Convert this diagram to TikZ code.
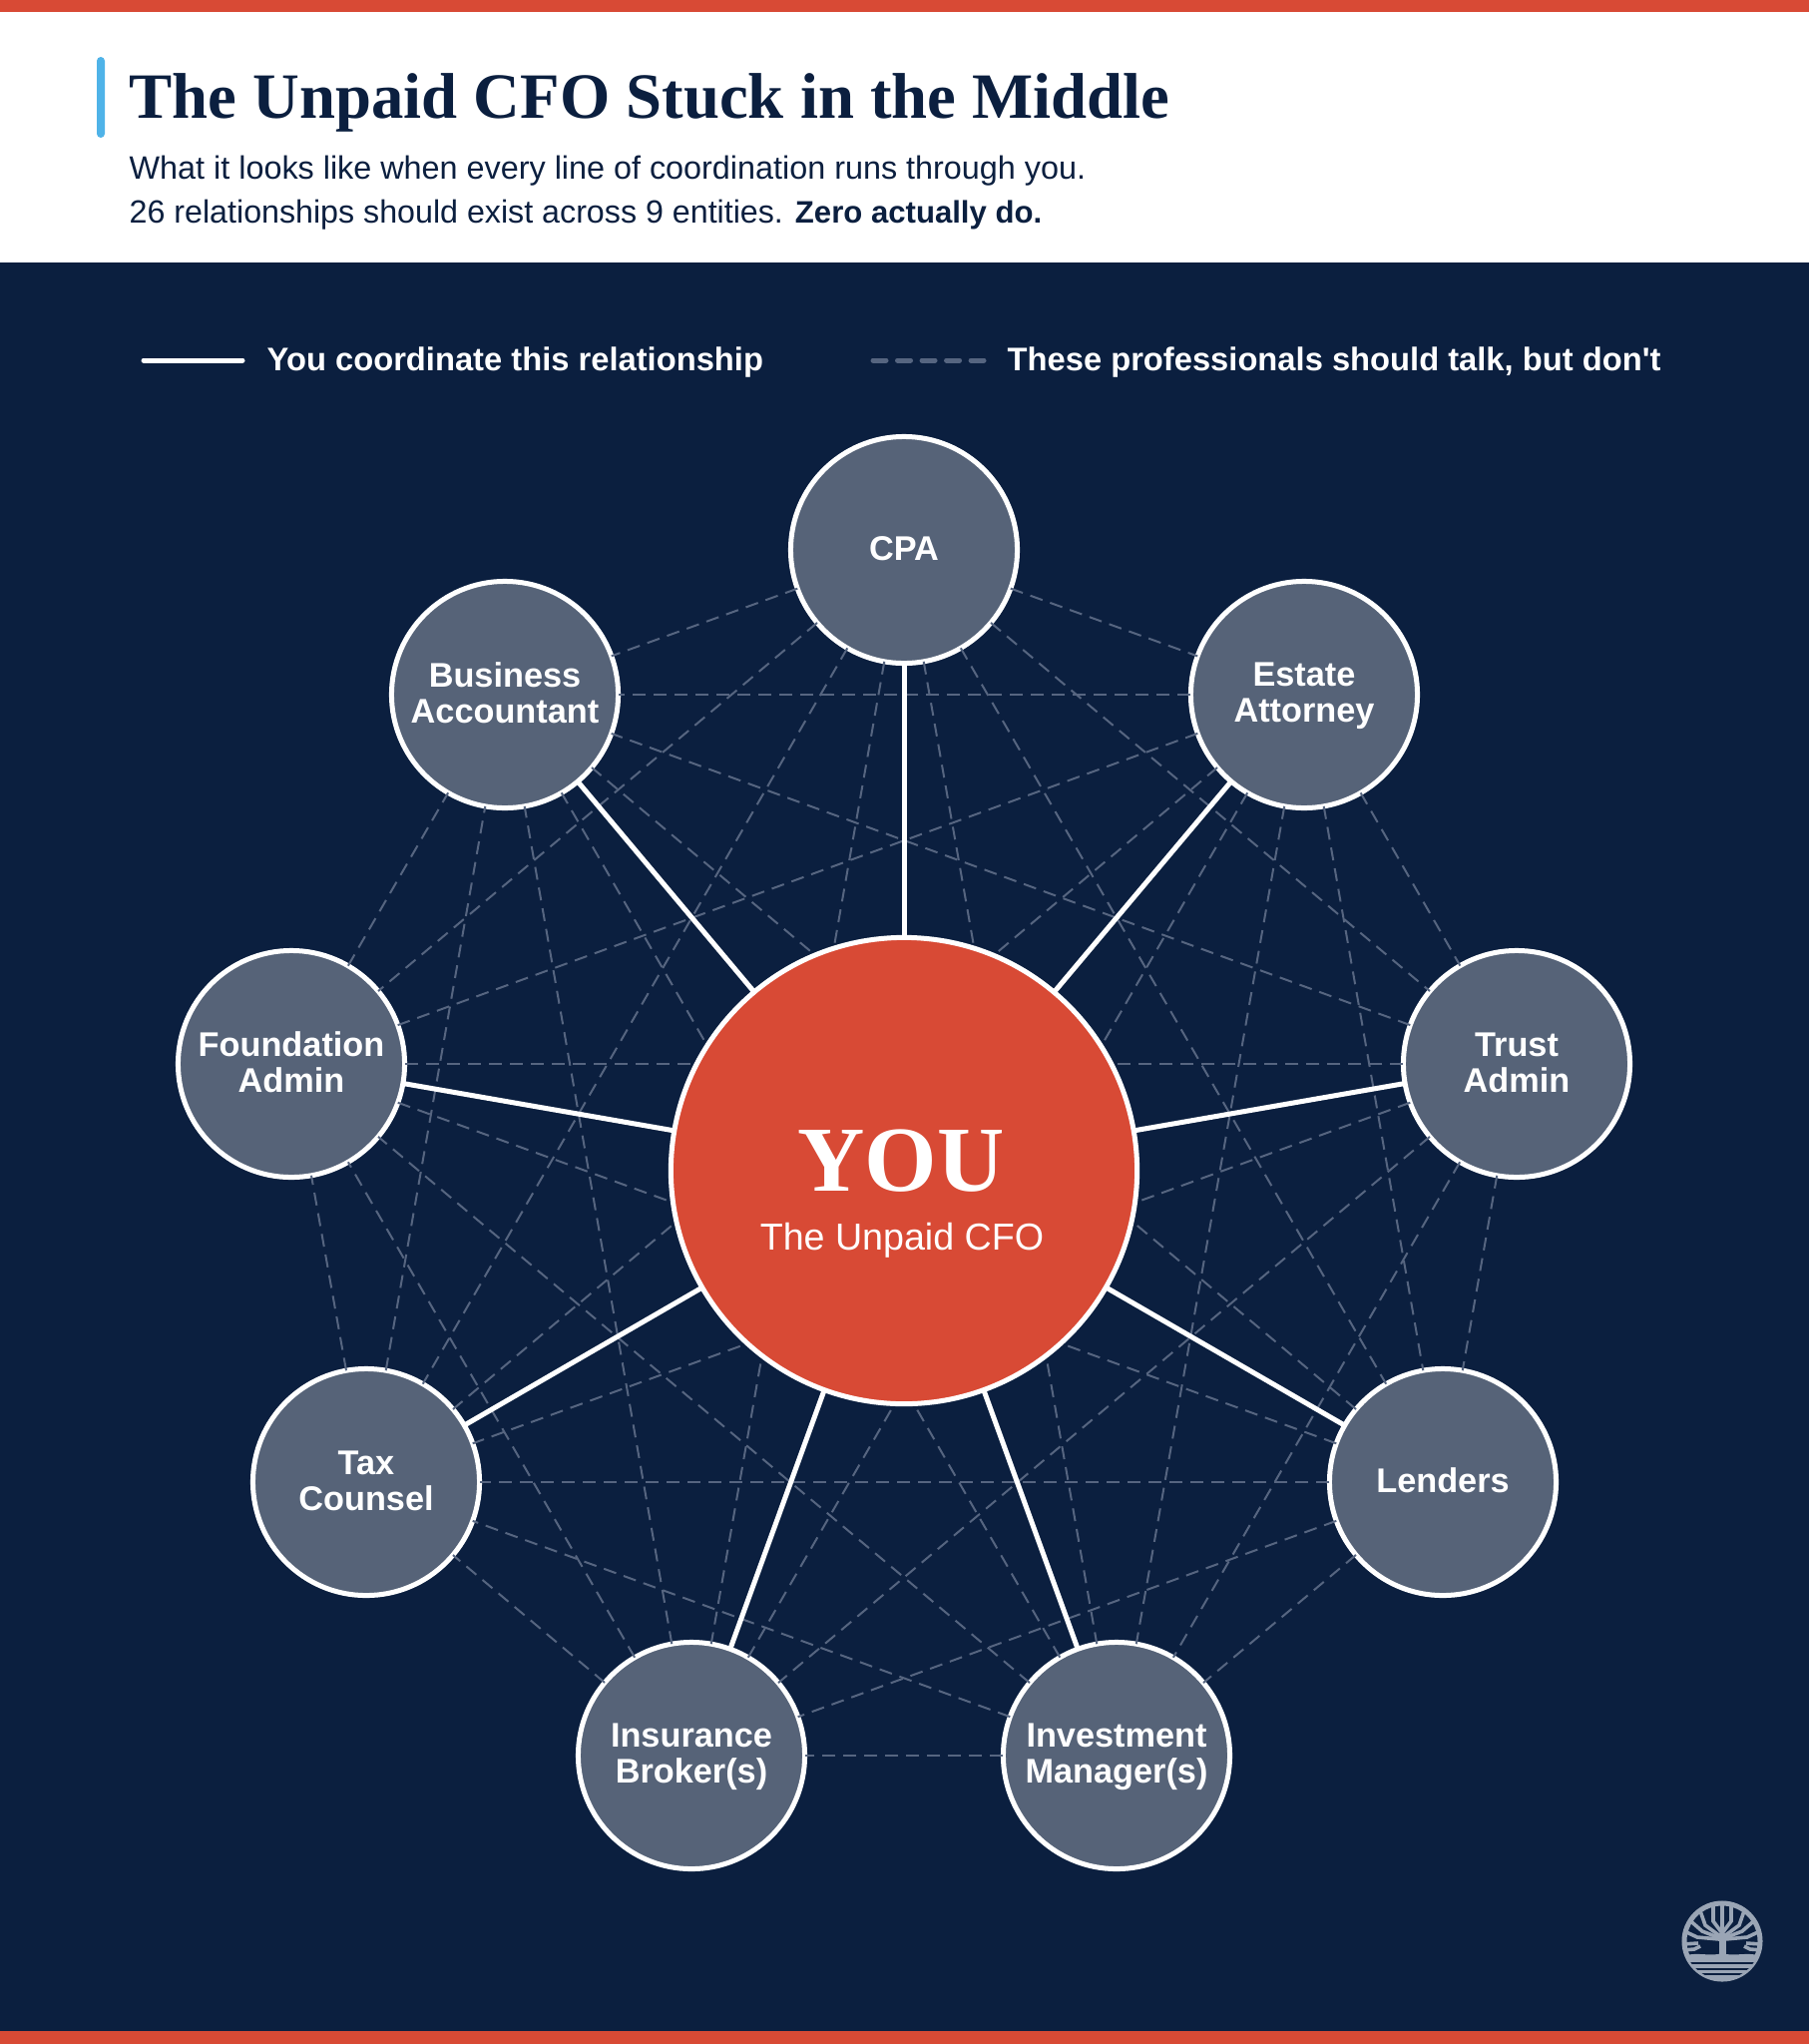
\documentclass[tikz,border=0pt]{standalone}
\usepackage{fontspec}
\setmainfont{Liberation Sans}
\newfontfamily\seriffont{Liberation Serif}
\usepackage{xcolor}
\usepackage{tikz}
\definecolor{navy}{HTML}{0B1F3F}
\definecolor{brick}{HTML}{D84A35}
\definecolor{sky}{HTML}{4FB3E8}
\definecolor{slate}{HTML}{566378}
\definecolor{talkgrey}{HTML}{566580}
\definecolor{logogrey}{HTML}{9AA5B5}
\newcommand{\mstrut}{\rule[-0.07cm]{0pt}{0.34cm}}

\begin{document}
\begin{tikzpicture}
[
	x = 0.01cm, y = -0.01cm,
	member/.style = {circle, draw = white, fill = slate, line width = 0.05cm, minimum size = 2.27cm, inner sep = 0cm, outer sep = 0cm, text = white, align = center, font = \fontsize{9.75}{10.24}\selectfont\bfseries},
	you/.style = {circle, draw = white, fill = brick, line width = 0.05cm, minimum size = 4.67cm, inner sep = 0cm, outer sep = 0cm},
	spoke/.style = {draw = white, line width = 0.05cm},
	talk/.style = {draw = talkgrey, line width = 0.02cm, dash pattern = on 0.13cm off 0.08cm},
	legendtext/.style = {anchor = base west, inner sep = 0cm, text = white, font = \fontsize{9.3}{11}\selectfont\bfseries},
	subtext/.style = {anchor = base west, inner sep = 0cm, text = navy, font = \fontsize{9.2}{11}\selectfont},
	logoline/.style = {draw = logogrey, line width = 0.036cm},
]
	\useasboundingbox (0, 0) rectangle (1813, 2048);

	% bands
	\fill [white] (0, 0) rectangle (1813, 263);
	\fill [navy] (0, 263) rectangle (1813, 2035);
	\fill [brick] (0, 0) rectangle (1813, 12);
	\fill [brick] (0, 2035) rectangle (1813, 2048);

	% heading
	\fill [sky, rounded corners = 0.04cm] (97, 57) rectangle (105, 138);
	\node (title) [anchor = base west, inner sep = 0cm, text = navy, font = \fontsize{18.4}{22}\selectfont\seriffont\bfseries] at (129, 118) {The Unpaid CFO Stuck in the Middle};
	\node (sub1) [subtext] at (129, 179) {What it looks like when every line of coordination runs through you.};
	\node (sub2) [subtext, font = \fontsize{9.16}{11}\selectfont] at (129, 223) {26 relationships should exist across 9 entities. {\fontsize{8.85}{11}\selectfont\bfseries Zero actually do.}};

	% legend
	\coordinate (solidA) at (144, 361);
	\coordinate (solidB) at (243, 361);
	\coordinate (dashA) at (875, 361);
	\coordinate (dashB) at (986, 361);
	\draw [spoke, line cap = round] (solidA) -- (solidB);
	\draw [draw = talkgrey, line width = 0.05cm, line cap = round, dash pattern = on 0.13cm off 0.115cm] (dashA) -- (dashB);
	\node (solidlabel) [legendtext] at (267, 371) {You coordinate this relationship};
	\node (dashlabel) [legendtext] at (1009, 371) {These professionals should talk, but don\textquotesingle t};

	% professionals
	\node (CPA) [member] at (906, 551) {\mstrut CPA};
	\node (EA) [member] at (1307, 696) {\mstrut Estate\\\mstrut Attorney};
	\node (TA) [member] at (1520, 1066) {\mstrut Trust\\\mstrut Admin};
	\node (LE) [member] at (1446, 1485) {\mstrut Lenders};
	\node (IM) [member] at (1119, 1759) {\mstrut Investment\\\mstrut Manager(s)};
	\node (IB) [member] at (693, 1759) {\mstrut Insurance\\\mstrut Broker(s)};
	\node (TC) [member] at (367, 1485) {\mstrut Tax\\\mstrut Counsel};
	\node (FA) [member] at (292, 1066) {\mstrut Foundation\\\mstrut Admin};
	\node (BA) [member] at (506, 696) {\mstrut Business\\\mstrut Accountant};

	% paths -- should talk
	\draw [talk] (CPA) -- (EA);
	\draw [talk] (CPA) -- (TA);
	\draw [talk] (CPA) -- (LE);
	\draw [talk] (CPA) -- (IM);
	\draw [talk] (CPA) -- (IB);
	\draw [talk] (CPA) -- (TC);
	\draw [talk] (CPA) -- (FA);
	\draw [talk] (CPA) -- (BA);
	%
	\draw [talk] (EA) -- (TA);
	\draw [talk] (EA) -- (LE);
	\draw [talk] (EA) -- (IM);
	\draw [talk] (EA) -- (IB);
	\draw [talk] (EA) -- (TC);
	\draw [talk] (EA) -- (FA);
	\draw [talk] (EA) -- (BA);
	%
	\draw [talk] (TA) -- (LE);
	\draw [talk] (TA) -- (IM);
	\draw [talk] (TA) -- (IB);
	\draw [talk] (TA) -- (TC);
	\draw [talk] (TA) -- (FA);
	\draw [talk] (TA) -- (BA);
	%
	\draw [talk] (LE) -- (IM);
	\draw [talk] (LE) -- (IB);
	\draw [talk] (LE) -- (TC);
	\draw [talk] (LE) -- (FA);
	\draw [talk] (LE) -- (BA);
	%
	\draw [talk] (IM) -- (IB);
	\draw [talk] (IM) -- (TC);
	\draw [talk] (IM) -- (FA);
	\draw [talk] (IM) -- (BA);
	%
	\draw [talk] (IB) -- (TC);
	\draw [talk] (IB) -- (FA);
	\draw [talk] (IB) -- (BA);
	%
	\draw [talk] (TC) -- (FA);
	\draw [talk] (TC) -- (BA);
	%
	\draw [talk] (FA) -- (BA);

	% centre
	\node (YOU) [you] at (906, 1173) {};
	\node (youtext) [anchor = base, inner sep = 0cm, text = white, font = \fontsize{26.5}{30}\selectfont\seriffont\bfseries] at (903, 1193) {YOU};
	\node (youcfo) [anchor = base, inner sep = 0cm, text = white, font = \fontsize{10.7}{12}\selectfont] at (904, 1252) {The Unpaid CFO};

	% paths -- you coordinate
	\draw [spoke] (YOU) -- (CPA);
	\draw [spoke] (YOU) -- (EA);
	\draw [spoke] (YOU) -- (TA);
	\draw [spoke] (YOU) -- (LE);
	\draw [spoke] (YOU) -- (IM);
	\draw [spoke] (YOU) -- (IB);
	\draw [spoke] (YOU) -- (TC);
	\draw [spoke] (YOU) -- (FA);
	\draw [spoke] (YOU) -- (BA);

	% logo
	\begin{scope}[shift = {(1726, 1945)}]
		\draw [draw = logogrey, line width = 0.05cm] (0, 0) circle (0.38cm);
		\clip (0, 0) circle (0.38cm);
		\draw [logoline, line width = 0.07cm] (0, 14) -- (0, -8);
		\draw [logoline] (0, -8) -- (0, -38);
		\draw [logoline] (0, -8) -- (-9, -20) -- (-9, -38);
		\draw [logoline] (0, -8) -- (9, -20) -- (9, -38);
		\draw [logoline] (-2, -5) -- (-17, -16) -- (-24, -36);
		\draw [logoline] (2, -5) -- (17, -16) -- (24, -36);
		\draw [logoline] (-2, -3) -- (-20, -10) -- (-36, -24);
		\draw [logoline] (2, -3) -- (20, -10) -- (36, -24);
		\draw [logoline] (-3, -2) -- (-25, -4) -- (-40, -11);
		\draw [logoline] (3, -2) -- (25, -4) -- (40, -11);
		\draw [logoline] (-40, 3) -- (-24, 2);
		\draw [logoline] (40, 3) -- (24, 2);
		\draw [logoline] (-40, 9) -- (-28, 8) -- (-22, 5);
		\draw [logoline] (40, 9) -- (28, 8) -- (22, 5);
		\fill [logogrey] (-40, 15) .. controls (-25, 10) and (-12, 16) .. (0, 12) .. controls (12, 16) and (25, 10) .. (40, 15) -- (40, 40) -- (-40, 40) -- cycle;
		\fill [navy] (-40, 21) rectangle (40, 23);
		\fill [navy] (-40, 26.5) rectangle (40, 28.5);
		\fill [navy] (-40, 32) rectangle (40, 34);
	\end{scope}

\end{tikzpicture}
\end{document}
